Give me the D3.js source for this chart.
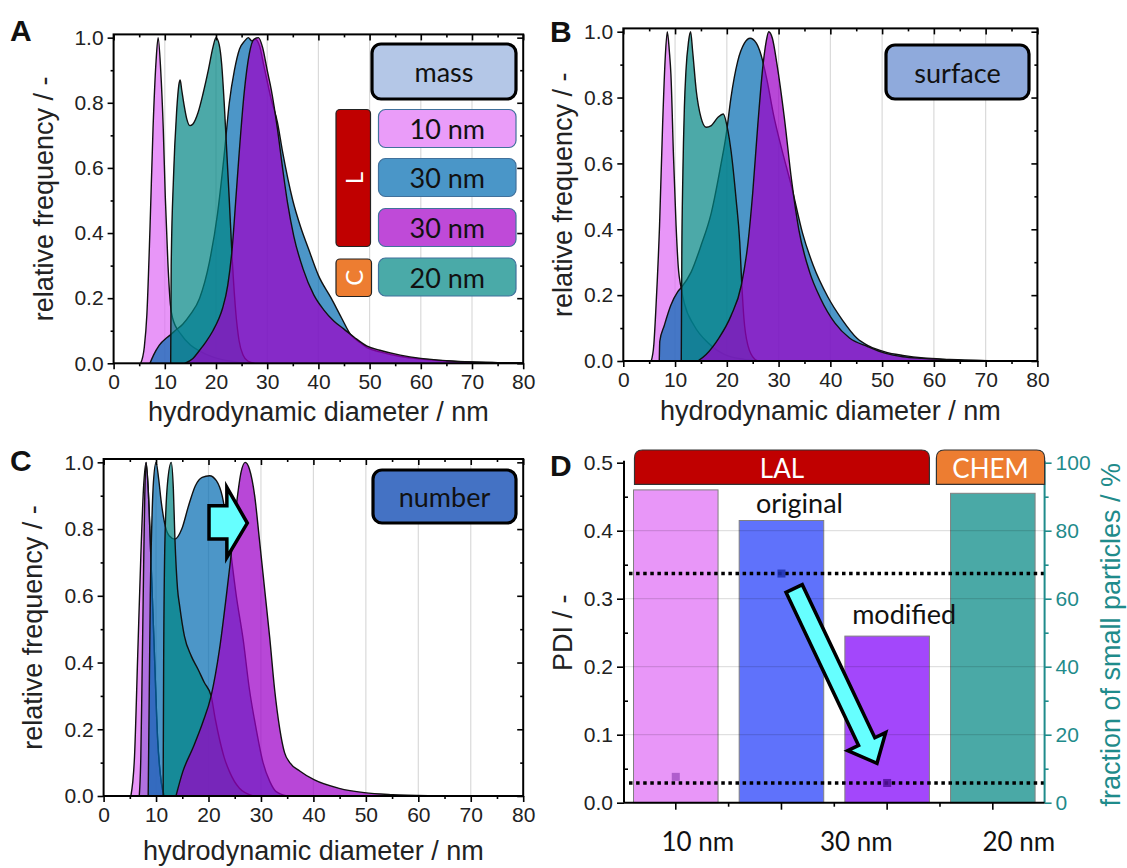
<!DOCTYPE html>
<html><head><meta charset="utf-8">
<script src="https://cdn.jsdelivr.net/npm/d3@7"></script>
<style>body{margin:0;background:#fff;}</style>
</head><body><script>
// ---------------- DATA ----------------
const diameterTicks = [0,10,20,30,40,50,60,70,80];
const diameterMinor = [5,15,25,35,45,55,65,75];
const freqTicks = [0,0.2,0.4,0.6,0.8,1.0];
const freqMinor = [0.1,0.3,0.5,0.7,0.9];
const gridDiam = [10,20,30,40,50,60,70];
const legendSizes = ["10 nm","30 nm","30 nm","20 nm"];

// A: mass distributions [diameter nm, relative frequency]
const massPink = [[5.3,0],[6,0.05],[6.5,0.15],[7.1,0.41],[7.7,0.72],[8.3,0.93],[8.7,1.0],[9.2,0.9],[9.7,0.72],[10.1,0.51],[10.6,0.31],[11.1,0.18],[11.5,0.14],[13.1,0.09],[15,0.056],[17,0.036],[19.6,0.018],[23.5,0.005],[26,0]];
const massBlue = [[7.1,0],[7.8,0.025],[8.9,0.055],[10.5,0.08],[11.3,0.09],[12,0.1],[13.5,0.12],[15,0.15],[16.8,0.2],[18.7,0.31],[20.3,0.46],[21.6,0.64],[22.6,0.8],[23.6,0.9],[24.6,0.965],[25.6,0.99],[26.3,1.0],[27,0.99],[27.7,0.995],[28.5,0.975],[29.4,0.91],[30.8,0.81],[32,0.74],[33,0.65],[35,0.5],[36.5,0.42],[38.1,0.35],[40,0.27],[42.5,0.2],[44.5,0.14],[46.3,0.088],[48,0.065],[49.5,0.048],[52,0.035],[56,0.021],[60,0.013],[65,0.007],[70,0.004],[75,0.002],[80,0.001]];
const massTeal = [[11.15,0],[11.25,0.3],[11.7,0.57],[12.3,0.77],[12.8,0.86],[13,0.87],[13.3,0.84],[13.8,0.79],[14.3,0.75],[14.9,0.73],[15.5,0.735],[16.5,0.77],[17.5,0.83],[18.5,0.9],[19.4,0.97],[20,1.0],[20.6,0.98],[21.1,0.92],[21.6,0.8],[22.1,0.65],[22.6,0.5],[23.2,0.31],[23.9,0.15],[24.5,0.07],[25.3,0.025],[26.3,0.006],[27.5,0]];
const massPurple = [[13.9,0],[15.5,0.015],[16.8,0.04],[18,0.065],[19.4,0.1],[20.5,0.135],[21.3,0.17],[22.3,0.24],[23.2,0.36],[23.9,0.51],[24.5,0.64],[25.5,0.83],[26.5,0.95],[27.4,0.995],[28.3,1.0],[29.1,0.97],[30,0.9],[30.8,0.84],[32,0.72],[33,0.6],[34,0.49],[35.2,0.39],[37,0.29],[39.1,0.21],[41,0.165],[43,0.13],[45,0.105],[47,0.08],[49.5,0.053],[52,0.04],[56,0.025],[60,0.015],[65,0.008],[70,0.004],[75,0.002],[80,0.0005]];

// B: surface distributions
const surfacePink = [[5.4,0],[5.9,0.05],[6.3,0.16],[7,0.41],[7.6,0.72],[8.1,0.92],[8.5,1.0],[8.9,0.94],[9.2,0.87],[9.7,0.62],[10.2,0.41],[10.6,0.29],[11.2,0.22],[11.8,0.175],[13.7,0.107],[16.3,0.056],[19.5,0.02],[23.4,0.005],[26,0]];
const surfaceBlue = [[6.95,0],[7.05,0.06],[7.9,0.107],[9.2,0.17],[10.5,0.21],[11.3,0.225],[13.1,0.27],[15,0.35],[17,0.45],[18.9,0.6],[19.9,0.69],[20.8,0.8],[22.1,0.91],[23.4,0.965],[24.5,0.98],[25.7,0.965],[26.6,0.93],[27.8,0.85],[29,0.75],[30.5,0.65],[32.5,0.53],[34.6,0.39],[36.7,0.29],[39.5,0.195],[42.3,0.125],[45.1,0.07],[47.5,0.045],[50.7,0.027],[54,0.017],[58,0.009],[63,0.005],[68,0.002],[74,0.0008],[80,0]];
const surfaceTeal = [[11.2,0],[11.3,0.31],[11.5,0.56],[11.8,0.77],[12.1,0.88],[12.6,0.97],[13,1.0],[13.4,0.94],[14.1,0.82],[15,0.74],[16,0.71],[17,0.715],[18.3,0.74],[19.3,0.75],[20.2,0.7],[20.8,0.64],[21.8,0.49],[22.5,0.36],[22.9,0.23],[23.3,0.13],[24.1,0.046],[25.4,0.005],[26,0]];
const surfacePurple = [[14.4,0],[16,0.02],[18.3,0.066],[20.8,0.137],[22.8,0.23],[24.1,0.36],[25,0.51],[26,0.72],[27,0.9],[27.6,0.97],[28.1,1.0],[28.8,0.98],[29.7,0.9],[31.1,0.74],[32.5,0.55],[33.9,0.4],[36,0.27],[38.1,0.19],[40.9,0.115],[43.7,0.07],[47.2,0.044],[50.7,0.023],[54,0.013],[57.7,0.008],[64.6,0.003],[72,0.001],[80,0]];

// C: number distributions
const numberPink = [[5.2,0],[5.9,0.12],[6.5,0.42],[7.1,0.72],[7.6,0.92],[8.1,1.0],[8.5,0.92],[9,0.72],[9.7,0.42],[10.3,0.17],[11,0.04],[11.6,0]];
const numberLavender = [[6.8,0],[7.1,0.12],[7.3,0.32],[7.6,0.65],[7.85,0.9],[8.1,1.0],[8.5,0.92],[9,0.72],[9.7,0.42],[10.3,0.17],[11,0.04],[11.6,0]];
const numberBlue = [[8.5,0],[8.7,0.3],[8.9,0.6],[9.2,0.82],[9.5,0.94],[10,1.0],[10.5,0.95],[11,0.88],[11.6,0.82],[12.5,0.78],[13.6,0.77],[14.9,0.8],[16.2,0.87],[17.5,0.93],[18.8,0.955],[20.2,0.96],[21.5,0.945],[22.6,0.9],[23.3,0.84],[24,0.76],[25.3,0.6],[26.6,0.47],[27.8,0.32],[29.1,0.2],[30.4,0.1],[31.7,0.043],[32.9,0.013],[35,0]];
const numberTeal = [[11.35,0],[11.45,0.4],[11.7,0.77],[12.2,0.94],[12.9,1.0],[13.3,0.92],[13.6,0.77],[14.1,0.62],[14.5,0.57],[15.4,0.48],[16.7,0.42],[18,0.38],[19.2,0.34],[20.5,0.3],[21.3,0.23],[22.1,0.17],[23,0.115],[24,0.073],[25.9,0.023],[28.5,0]];
const numberPurple = [[13.8,0],[15.1,0.073],[17,0.143],[18.9,0.22],[20.5,0.3],[22.1,0.44],[23.4,0.6],[24.3,0.72],[25.3,0.87],[26.2,0.97],[27,1.0],[27.8,0.98],[28.8,0.9],[29.7,0.77],[30.7,0.62],[31.7,0.47],[32.6,0.32],[33.6,0.2],[34.5,0.13],[35.5,0.1],[37.4,0.075],[40.2,0.048],[44.9,0.023],[49.7,0.01],[55.1,0.004],[62,0.001],[70,0]];

// D: PDI and fraction of small particles
const samples = ["L 10 nm","L 30 nm original","L 30 nm modified","C 20 nm"];
const smallFraction = [92, 83, 49, 91];          // %, right axis (bars)
const pdiValues = [0.038, 0.337, 0.029];          // PDI, left axis (squares)
const pdiRefLines = [0.337, 0.029];
const pdiTicks = [0,0.1,0.2,0.3,0.4,0.5];
const pdiMinor = [0.05,0.15,0.25,0.35,0.45];
const fractionTicks = [0,20,40,60,80,100];
const fractionMinor = [10,30,50,70,90];
const sizeAxisLabels = ["10 nm","30 nm","20 nm"];

// ---------------- STYLE ----------------
const W = 1127, H = 868;
const SANS = "'Liberation Sans', Arial, sans-serif";
const CAL = "Lato, 'Open Sans', sans-serif";
const col = {
  pink:{fill:"#de69f5",op:0.7}, lav:{fill:"#784ac8",op:0.5},
  blue:{fill:"#0069b0",op:0.7}, teal:{fill:"#008583",op:0.7},
  purple:{fill:"#9c00c8",op:0.72}
};

const svg = d3.select("body").append("svg").attr("width",W).attr("height",H)
  .style("font-family",SANS);

function styleAxis(sel, size, color){
  sel.select(".domain").remove();
  sel.selectAll("line").attr("stroke",color||"#000").attr("stroke-width",1.6);
  sel.selectAll("text").attr("font-size",size||21).attr("fill",color||"#222").attr("font-family",SANS);
}

function drawDistPanel(p){
  const g = svg.append("g");
  const x = d3.scaleLinear().domain([0,80]).range([p.left,p.right]);
  const y = d3.scaleLinear().domain([0,1.01]).range([p.bottom,p.top]);
  g.selectAll(".grid").data(gridDiam).join("line")
    .attr("x1",d=>x(d)).attr("x2",d=>x(d)).attr("y1",p.top).attr("y2",p.bottom)
    .attr("stroke","#dadada").attr("stroke-width",1.2);
  const cid = "clip"+p.id;
  svg.append("clipPath").attr("id",cid).append("rect")
    .attr("x",p.left).attr("y",p.top).attr("width",p.right-p.left).attr("height",p.bottom-p.top);
  const plot = g.append("g").attr("clip-path",`url(#${cid})`);
  const area = d3.area().x(d=>x(d[0])).y0(y(0)).y1(d=>y(d[1])).curve(d3.curveMonotoneX);
  const line = d3.line().x(d=>x(d[0])).y(d=>y(d[1])).curve(d3.curveMonotoneX);
  p.series.forEach(s=>{
    plot.append("path").datum(s.data).attr("d",area).attr("fill",s.style.fill).attr("fill-opacity",s.style.op);
    plot.append("path").datum(s.data).attr("d",line).attr("fill","none").attr("stroke","#111").attr("stroke-width",1.4);
  });
  // axes
  g.append("g").attr("transform",`translate(0,${p.bottom})`)
    .call(d3.axisBottom(x).tickValues(diameterTicks).tickSize(6).tickPadding(5).tickFormat(d3.format("d")))
    .call(s=>styleAxis(s));
  g.append("g").attr("transform",`translate(0,${p.bottom})`)
    .call(d3.axisBottom(x).tickValues(diameterMinor).tickSize(3).tickFormat("")).call(s=>styleAxis(s));
  g.append("g").attr("transform",`translate(0,${p.top})`)
    .call(d3.axisTop(x).tickValues(diameterTicks).tickSize(-6).tickFormat("")).call(s=>styleAxis(s));
  g.append("g").attr("transform",`translate(0,${p.top})`)
    .call(d3.axisTop(x).tickValues(diameterMinor).tickSize(-3).tickFormat("")).call(s=>styleAxis(s));
  g.append("g").attr("transform",`translate(${p.left},0)`)
    .call(d3.axisLeft(y).tickValues(freqTicks).tickSize(6).tickPadding(4).tickFormat(d3.format(".1f")))
    .call(s=>styleAxis(s));
  g.append("g").attr("transform",`translate(${p.left},0)`)
    .call(d3.axisLeft(y).tickValues(freqMinor).tickSize(3).tickFormat("")).call(s=>styleAxis(s));
  g.append("g").attr("transform",`translate(${p.right},0)`)
    .call(d3.axisRight(y).tickValues(freqTicks).tickSize(-6).tickFormat("")).call(s=>styleAxis(s));
  g.append("g").attr("transform",`translate(${p.right},0)`)
    .call(d3.axisRight(y).tickValues(freqMinor).tickSize(-3).tickFormat("")).call(s=>styleAxis(s));
  g.append("rect").attr("x",p.left).attr("y",p.top).attr("width",p.right-p.left).attr("height",p.bottom-p.top)
    .attr("fill","none").attr("stroke","#000").attr("stroke-width",2);
  // titles
  g.append("text").attr("transform",`translate(${p.ytX},${(p.top+p.bottom)/2}) rotate(-90)`)
    .attr("text-anchor","middle").attr("dominant-baseline","central")
    .attr("font-size",27).attr("fill","#222").text("relative frequency / -");
  g.append("text").attr("x",(p.left+p.right)/2).attr("y",p.xtY).attr("text-anchor","middle")
    .attr("font-size",27).attr("fill","#222").text("hydrodynamic diameter / nm");
  g.append("text").attr("x",p.letterX).attr("y",p.letterY).attr("font-size",30).attr("font-weight","bold")
    .attr("fill","#111").text(p.letter);
  // label box
  g.append("rect").attr("x",p.box[0]).attr("y",p.box[1]).attr("width",p.box[2]).attr("height",p.box[3])
    .attr("rx",9).attr("fill",p.boxFill).attr("stroke","#000").attr("stroke-width",3.2);
  g.append("text").attr("x",p.box[0]+p.box[2]/2).attr("y",p.box[1]+p.box[3]/2)
    .attr("text-anchor","middle").attr("dominant-baseline","central")
    .attr("font-family",CAL).attr("font-size",27).attr("fill","#111").text(p.boxText);
  return {x,y,g};
}

const A = drawDistPanel({id:"A",left:113.6,right:523.2,top:34.4,bottom:363.3,ytX:44,xtY:421,letter:"A",letterX:10,letterY:41,
  series:[{data:massPink,style:col.pink},{data:massBlue,style:col.blue},{data:massTeal,style:col.teal},{data:massPurple,style:col.purple}],
  box:[372,44,144,55],boxFill:"#b4c7e7",boxText:"mass"});
const B = drawDistPanel({id:"B",left:623.3,right:1037.4,top:28.4,bottom:361,ytX:563,xtY:420,letter:"B",letterX:550,letterY:42,
  series:[{data:surfacePink,style:col.pink},{data:surfaceBlue,style:col.blue},{data:surfaceTeal,style:col.teal},{data:surfacePurple,style:col.purple}],
  box:[886,45,143,54],boxFill:"#8faadc",boxText:"surface"});
const C = drawDistPanel({id:"C",left:103.6,right:523.2,top:459,bottom:796,ytX:33,xtY:860,letter:"C",letterX:10,letterY:471,
  series:[{data:numberPink,style:col.pink},{data:numberLavender,style:col.lav},{data:numberBlue,style:col.blue},{data:numberTeal,style:col.teal},{data:numberPurple,style:col.purple}],
  box:[373,470,143,53],boxFill:"#4472c4",boxText:"number"});

// legend in A
const legFills = ["#ea9cf9","#4a96c8","#bf4ad8","#4aaaa8"];
const legY = [109.5,158.5,208.5,258];
legendSizes.forEach((t,i)=>{
  A.g.append("rect").attr("x",378.5).attr("y",legY[i]).attr("width",137.5).attr("height",38).attr("rx",7)
    .attr("fill",legFills[i]).attr("stroke","#41719c").attr("stroke-width",1.2);
  A.g.append("text").attr("x",378.5+137.5/2).attr("y",legY[i]+19).attr("text-anchor","middle").attr("dominant-baseline","central")
    .attr("font-family",CAL).attr("font-size",27).attr("fill","#111").text(t);
});
A.g.append("rect").attr("x",336).attr("y",109.5).attr("width",34.5).attr("height",137).attr("rx",4)
  .attr("fill","#c00000").attr("stroke","#222").attr("stroke-width",1.2);
A.g.append("text").attr("transform",`translate(353.3,178) rotate(-90)`).attr("text-anchor","middle").attr("dominant-baseline","central")
  .attr("font-family",CAL).attr("font-size",24).attr("fill","#fff").text("L");
A.g.append("rect").attr("x",336).attr("y",259).attr("width",35.5).attr("height",37.5).attr("rx",4)
  .attr("fill","#ed7d31").attr("stroke","#222").attr("stroke-width",1.2);
A.g.append("text").attr("transform",`translate(353.8,277.8) rotate(-90)`).attr("text-anchor","middle").attr("dominant-baseline","central")
  .attr("font-family",CAL).attr("font-size",24).attr("fill","#fff").text("C");

// shift arrow in C (data coords)
const cArrow = [[20.1,0.87],[23.5,0.87],[23.5,0.925],[27.4,0.818],[23.5,0.715],[23.5,0.77],[20.1,0.77]];
C.g.append("polygon").attr("points",cArrow.map(d=>[C.x(d[0]),C.y(d[1])].join(",")).join(" "))
  .attr("fill","#66ffff").attr("stroke","#000").attr("stroke-width",3.5).attr("stroke-linejoin","miter");

// ---------------- PANEL D ----------------
const D = {left:624,right:1044.6,top:462.7,bottom:802.7};
const gD = svg.append("g");
const xb = d3.scaleBand().domain(samples).range([D.left,D.right]).paddingInner(0.2).paddingOuter(0.09);
const yL = d3.scaleLinear().domain([0,0.5]).range([D.bottom,D.top]);
const yR = d3.scaleLinear().domain([0,100]).range([D.bottom,D.top]);
const barFills = ["#e896f8","#5f72fb","#a347fb","#4aa9a6"];
const ptFills = ["#a653c6","#1d30b0","#55119f"];
const teal = "#1f8b8b";

gD.selectAll(".bar").data(smallFraction).join("rect")
  .attr("x",(d,i)=>xb(samples[i])).attr("width",xb.bandwidth())
  .attr("y",d=>yR(d)).attr("height",d=>D.bottom-yR(d))
  .attr("fill",(d,i)=>barFills[i]).attr("stroke","#808080").attr("stroke-width",1);
gD.selectAll(".gridD").data([0.1,0.2,0.3,0.4]).join("line")
  .attr("x1",D.left).attr("x2",D.right).attr("y1",d=>yL(d)).attr("y2",d=>yL(d))
  .attr("stroke","#000").attr("stroke-opacity",0.12).attr("stroke-width",1.2);
gD.selectAll(".ref").data(pdiRefLines).join("line")
  .attr("x1",D.left+5).attr("x2",D.right).attr("y1",d=>yL(d)).attr("y2",d=>yL(d))
  .attr("stroke","#000").attr("stroke-width",3.5).attr("stroke-dasharray","3.5,3.6");
gD.selectAll(".pt").data(pdiValues).join("rect")
  .attr("x",(d,i)=>xb(samples[i])+xb.bandwidth()/2-4).attr("y",d=>yL(d)-4)
  .attr("width",8).attr("height",8).attr("fill",(d,i)=>ptFills[i]).attr("fill-opacity",0.85);

// axes D
gD.append("g").attr("transform",`translate(${D.left},0)`)
  .call(d3.axisLeft(yL).tickValues(pdiTicks).tickSize(7).tickPadding(4).tickFormat(d3.format(".1f"))).call(s=>styleAxis(s));
gD.append("g").attr("transform",`translate(${D.left},0)`)
  .call(d3.axisLeft(yL).tickValues(pdiMinor).tickSize(-4).tickFormat("")).call(s=>styleAxis(s));
gD.append("g").attr("transform",`translate(${D.right},0)`)
  .call(d3.axisRight(yR).tickValues(fractionTicks).tickSize(7).tickPadding(4).tickFormat(d3.format("d"))).call(s=>styleAxis(s,21,teal));
gD.append("g").attr("transform",`translate(${D.right},0)`)
  .call(d3.axisRight(yR).tickValues(fractionMinor).tickSize(4).tickFormat("")).call(s=>styleAxis(s,21,teal));
gD.append("line").attr("x1",D.left).attr("x2",D.left).attr("y1",D.top-2).attr("y2",D.bottom).attr("stroke","#000").attr("stroke-width",2);
gD.append("line").attr("x1",D.right).attr("x2",D.right).attr("y1",D.top-2).attr("y2",D.bottom).attr("stroke",teal).attr("stroke-width",2);
gD.append("line").attr("x1",D.left).attr("x2",D.right).attr("y1",D.bottom).attr("y2",D.bottom).attr("stroke","#000").attr("stroke-width",2);
const centers = samples.map(s=>xb(s)+xb.bandwidth()/2);
gD.selectAll(".ct").data(centers).join("line").attr("x1",d=>d).attr("x2",d=>d).attr("y1",D.bottom).attr("y2",D.bottom+7)
  .attr("stroke","#000").attr("stroke-width",1.6);
const bounds = d3.pairs(centers).map(([a,b])=>(a+b)/2);
gD.selectAll(".bt").data(bounds).join("line").attr("x1",d=>d).attr("x2",d=>d).attr("y1",D.bottom).attr("y2",D.bottom+4)
  .attr("stroke","#000").attr("stroke-width",1.6);
const labelX = [centers[0]+22, (centers[1]+centers[2])/2+22, centers[3]+26];
sizeAxisLabels.forEach((t,i)=>{
  gD.append("text").attr("x",labelX[i]).attr("y",851).attr("text-anchor","middle")
    .attr("font-family",CAL).attr("font-size",26).attr("fill","#111").text(t);
});
gD.append("text").attr("transform",`translate(563,${(D.top+D.bottom)/2}) rotate(-90)`).attr("text-anchor","middle")
  .attr("dominant-baseline","central").attr("font-size",27).attr("fill","#222").text("PDI / -");
gD.append("text").attr("transform",`translate(1111,${(D.top+D.bottom)/2+2}) rotate(-90)`).attr("text-anchor","middle")
  .attr("dominant-baseline","central").attr("font-size",27).attr("fill",teal).text("fraction of small particles / %");
gD.append("text").attr("x",550).attr("y",476).attr("font-size",30).attr("font-weight","bold").attr("fill","#111").text("D");

// header boxes
function topRounded(x0,y0,w,h,r){
  return `M${x0},${y0+h}V${y0+r}Q${x0},${y0} ${x0+r},${y0}H${x0+w-r}Q${x0+w},${y0} ${x0+w},${y0+r}V${y0+h}Z`;
}
const hTop = yL(0.5)-12.7, hH = 34.3;
const lalX0 = xb(samples[0])+1, lalX1 = xb(samples[2])+xb.bandwidth();
gD.append("path").attr("d",topRounded(lalX0,hTop,lalX1-lalX0,hH,8)).attr("fill","#c00000").attr("stroke","#333").attr("stroke-width",1.2);
gD.append("text").attr("x",(lalX0+lalX1)/2).attr("y",hTop+hH/2+1).attr("text-anchor","middle").attr("dominant-baseline","central")
  .attr("font-family",CAL).attr("font-size",26).attr("fill","#fff").text("LAL");
const chX0 = lalX1+7, chX1 = D.right;
gD.append("path").attr("d",topRounded(chX0,hTop,chX1-chX0,hH,8)).attr("fill","#ed7d31").attr("stroke","#333").attr("stroke-width",1.2);
gD.append("text").attr("x",(chX0+chX1)/2).attr("y",hTop+hH/2+1).attr("text-anchor","middle").attr("dominant-baseline","central")
  .attr("font-family",CAL).attr("font-size",26).attr("fill","#fff").text("CHEM");

gD.append("text").attr("x",centers[1]+18).attr("y",yL(0.416)-7).attr("text-anchor","middle")
  .attr("font-family",CAL).attr("font-size",27).attr("fill","#111").text("original");
gD.append("text").attr("x",centers[2]+17).attr("y",yL(0.245)-12).attr("text-anchor","middle")
  .attr("font-family",CAL).attr("font-size",27).attr("fill","#111").text("modified");

// arrow in D
function blockArrow(x1,y1,x2,y2,sw,hw,hl){
  const dx=x2-x1, dy=y2-y1, L=Math.hypot(dx,dy), ux=dx/L, uy=dy/L, px=-uy, py=ux;
  const bx=x2-ux*hl, by=y2-uy*hl;
  return [[x1+px*sw/2,y1+py*sw/2],[bx+px*sw/2,by+py*sw/2],[bx+px*hw/2,by+py*hw/2],[x2,y2],
          [bx-px*hw/2,by-py*hw/2],[bx-px*sw/2,by-py*sw/2],[x1-px*sw/2,y1-py*sw/2]];
}
const ax1 = xb(samples[1])+xb.bandwidth()*0.65, ay1 = yL(0.315);
const ax2 = xb(samples[2])+xb.bandwidth()*0.38, ay2 = yL(0.058);
gD.append("polygon").attr("points",blockArrow(ax1,ay1,ax2,ay2,18,42,24).map(p=>p.join(",")).join(" "))
  .attr("fill","#66ffff").attr("stroke","#000").attr("stroke-width",3.5);
</script></body></html>
